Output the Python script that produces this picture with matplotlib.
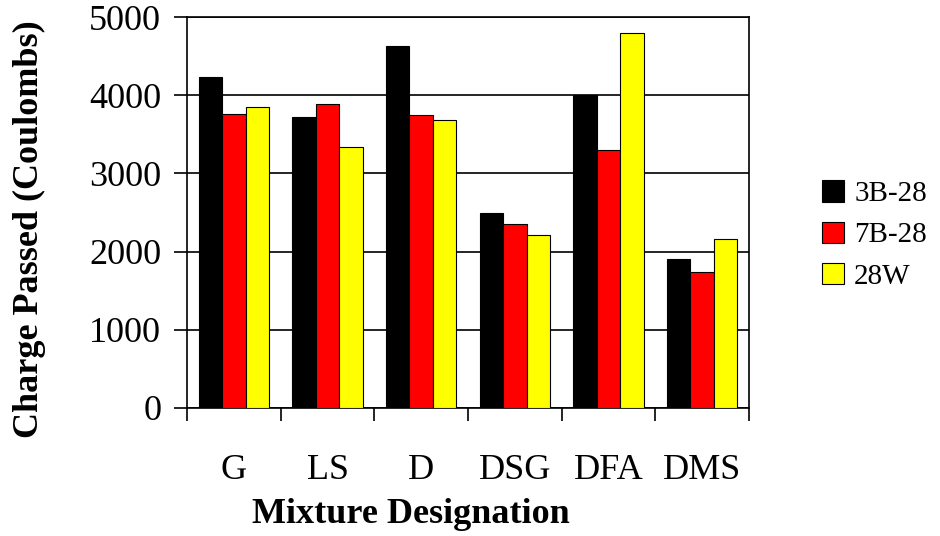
import numpy as np
import matplotlib.pyplot as plt

plt.rcParams['font.family'] = ['Liberation Serif', 'DejaVu Serif']

mixtures = ['G', 'LS', 'D', 'DSG', 'DFA', 'DMS']
series_names = ['3B-28', '7B-28', '28W']
b3_28 = [4235, 3720, 4630, 2490, 4000, 1900]
b7_28 = [3765, 3890, 3745, 2355, 3295, 1735]
w28 = [3850, 3340, 3685, 2210, 4790, 2165]
colors = ['black', 'red', 'yellow']

fig = plt.figure(figsize=(9.4, 5.36), dpi=100)
ax = fig.add_axes([187 / 940, 1 - 408 / 536, 562 / 940, 391 / 536])

x = np.arange(len(mixtures)) + 0.5
width = 0.25
for i, (vals, name) in enumerate(zip([b3_28, b7_28, w28], series_names)):
    ax.bar(x + (i - 1) * width, vals, width, color=colors[i], edgecolor='black',
           linewidth=0.8, label=name, zorder=3)

ax.set_xlim(0, len(mixtures))
ax.set_ylim(0, 5000)
ax.set_yticks(np.arange(0, 5001, 1000))
ax.yaxis.grid(True, color='black', linewidth=1.2, zorder=0)
ax.set_axisbelow(True)

ax.set_xticks(np.arange(0, len(mixtures) + 1))
ax.set_xticklabels([])
ax.set_xticks(x, minor=True)
ax.set_xticklabels(mixtures, minor=True)
ax.tick_params(axis='x', which='major', direction='out', length=9.5, width=1.2)
ax.tick_params(axis='x', which='minor', length=0, pad=33, labelsize=26)
ax.tick_params(axis='y', direction='out', length=9.5, width=1.2, pad=9, labelsize=26)
for s in ax.spines.values():
    s.set_linewidth(1.2)

ax.set_xlabel('Mixture Designation', fontsize=26, fontweight='bold')
ax.xaxis.set_label_coords((411 - 187) / 562, -0.23)
ax.set_ylabel('Charge Passed (Coulombs)', fontsize=26, fontweight='bold')
ax.yaxis.set_label_coords(-0.25, 0.458)

fig.legend(loc='center left', bbox_to_anchor=(822 / 940, 1 - 235 / 536), frameon=False,
           fontsize=21, handlelength=0.75, handleheight=0.75, handletextpad=0.35,
           labelspacing=0.5, borderaxespad=0, borderpad=0)

fig.savefig('out.png', dpi=100)
